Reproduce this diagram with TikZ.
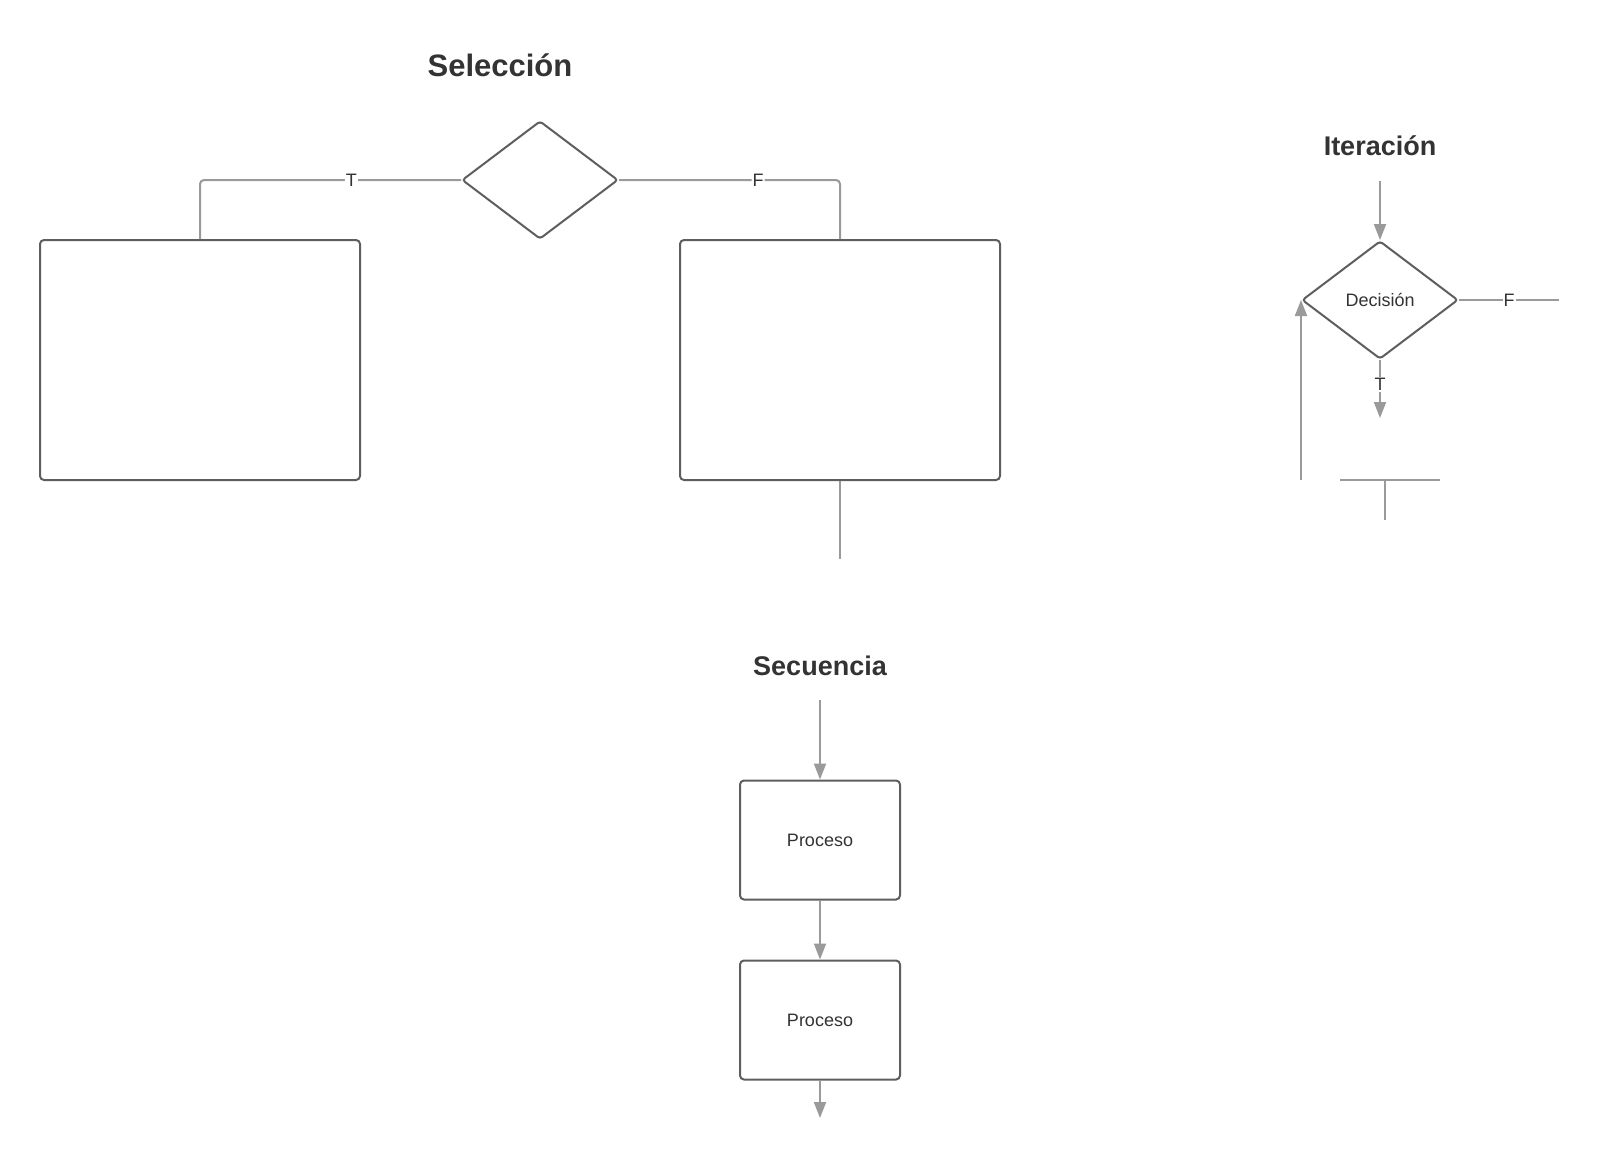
\documentclass[tikz,border=0pt]{standalone}
\usepackage{fontspec}
\setmainfont{Liberation Sans}
\usetikzlibrary{shapes.geometric,arrows.meta}
\definecolor{boxgray}{HTML}{5E5E5E}
\definecolor{linegray}{HTML}{9A9A9A}
\definecolor{titlegray}{HTML}{333333}
\tikzset{
  block/.style={draw=boxgray, line width=2pt, rounded corners=4pt, inner sep=0pt,
    font=\fontsize{18}{20}\selectfont, text=titlegray},
  decision/.style={draw=boxgray, line width=2pt, diamond, rounded corners=3pt, inner sep=0pt,
    minimum width=156pt, minimum height=118pt, font=\fontsize{18}{20}\selectfont, text=titlegray},
  flow/.style={draw=linegray, line width=2pt},
  arr/.style={flow, -{Triangle[length=16pt,width=12pt]}},
  heading/.style={font=\fontsize{27}{32}\selectfont\bfseries, text=titlegray},
  tag/.style={fill=white, inner sep=1pt, font=\fontsize{18}{20}\selectfont, text=titlegray}
}
\begin{document}
\begin{tikzpicture}[x=1pt,y=-1pt]
  \useasboundingbox[fill=white] (0,0) rectangle (1600,1157);
  % Seleccion
  \node [heading, font=\fontsize{31}{36}\selectfont\bfseries] (selt) at (500,65) {Selección};
  \node [decision] (sel) at (540,180) {};
  \node [block, minimum width=320pt, minimum height=240pt] (left)  at (200,360) {};
  \node [block, minimum width=320pt, minimum height=240pt] (right) at (840,360) {};
  \coordinate (selout) at (840,559);
  \draw [flow, rounded corners=4pt] (sel.west) -| node [tag, pos=0.21] {T} (left.north);
  \draw [flow, rounded corners=4pt] (sel.east) -| node [tag, pos=0.315] {F} (right.north);
  \draw [flow] (right.south) -- (selout);
  % Iteracion
  \node [heading] (itt) at (1380,146) {Iteración};
  \coordinate (itin)   at (1380,181);
  \node [decision] (dec) at (1380,300) {Decisión};
  \coordinate (itout)  at (1380,418);
  \coordinate (itf)    at (1559,300);
  \coordinate (loopin) at (1301,480);
  \coordinate (barl)   at (1340,480);
  \coordinate (barr)   at (1440,480);
  \coordinate (barm)   at (1385,480);
  \coordinate (barb)   at (1385,520);
  \draw [arr] (itin) -- (dec.north);
  \draw [arr] (dec.south) -- node [tag, pos=0.42] {T} (itout);
  \draw [flow] (dec.east) -- node [tag] {F} (itf);
  \draw [arr] (loopin) -- (dec.west);
  \draw [flow] (barl) -- (barr);
  \draw [flow] (barm) -- (barb);
  % Secuencia
  \node [heading] (seqt) at (820,666) {Secuencia};
  \coordinate (seqin) at (820,700);
  \node [block, minimum width=160pt, minimum height=119pt] (p1) at (820,840) {Proceso};
  \node [block, minimum width=160pt, minimum height=119pt] (p2) at (820,1020) {Proceso};
  \coordinate (seqout) at (820,1118);
  \draw [arr] (seqin) -- (p1.north);
  \draw [arr] (p1.south) -- (p2.north);
  \draw [arr] (p2.south) -- (seqout);
\end{tikzpicture}
\end{document}
